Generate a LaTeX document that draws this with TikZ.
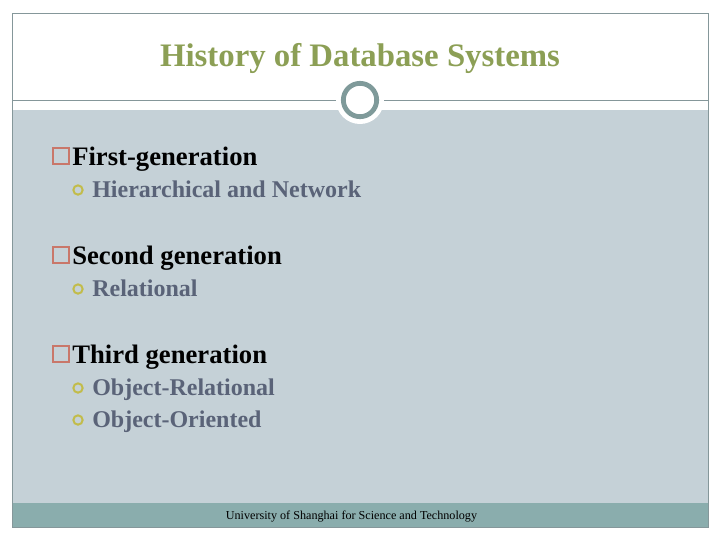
\documentclass[tikz,border=0pt]{standalone}
\usepackage{fontspec}
\setmainfont{Liberation Serif}
\definecolor{framegray}{HTML}{85979A}
\definecolor{panelblue}{HTML}{C5D1D7}
\definecolor{footteal}{HTML}{8AADAD}
\definecolor{ringteal}{HTML}{7F9A9A}
\definecolor{titleolive}{HTML}{8C9F55}
\definecolor{boxred}{HTML}{C9776A}
\definecolor{dotyellow}{HTML}{C2BC4A}
\definecolor{subslate}{HTML}{5A6378}
\tikzset{
	headtext/.style={anchor=base west, inner sep=0pt, font=\fontsize{20}{23}\selectfont\bfseries, text=black},
	subtext/.style={anchor=base west, inner sep=0pt, font=\fontsize{18}{21}\selectfont\bfseries, text=subslate},
	headbox/.style={draw=boxred, line width=1.5pt, minimum size=12pt, inner sep=0pt},
	subdot/.style={circle, draw=dotyellow, line width=1.5pt, minimum size=7pt, inner sep=0pt}
}
\begin{document}
\begin{tikzpicture}[x=.75pt, y=-.75pt]
	\useasboundingbox (0, 0) rectangle (720, 540);
	\fill[panelblue] (12, 110) rectangle (708, 503);
	\fill[footteal] (12, 503) rectangle (708, 527);
	\draw[framegray, line width=.6pt] (12, 13) rectangle (708, 527);
	\draw[framegray, line width=.5pt] (12, 100) -- (708, 100);
	\node[circle, fill=white, minimum size=36pt, inner sep=0pt] (ringback) at (360, 100) {};
	\node[circle, draw=ringteal, fill=white, line width=3.6pt, minimum size=25pt, inner sep=0pt] (ring) at (360, 100) {};

	\node[font=\fontsize{24.6}{28}\selectfont\bfseries, text=titleolive, inner sep=0pt, anchor=base] (title) at (360, 66) {History of Database Systems};

	\node[headbox] (boxa) at (61, 156) {};
	\node[headtext] (heada) at (72, 165) {First-generation};
	\node[subdot] (dota) at (78, 190) {};
	\node[subtext] (suba) at (92, 197) {Hierarchical and Network};

	\node[headbox] (boxb) at (61, 255) {};
	\node[headtext] (headb) at (72, 264) {Second generation};
	\node[subdot] (dotb) at (78, 289) {};
	\node[subtext] (subb) at (92, 296) {Relational};

	\node[headbox] (boxc) at (61, 354) {};
	\node[headtext] (headc) at (72, 363) {Third generation};
	\node[subdot] (dotc) at (78, 388) {};
	\node[subtext] (subc) at (92, 395) {Object-Relational};
	\node[subdot] (dotd) at (78, 420) {};
	\node[subtext] (subd) at (92, 427) {Object-Oriented};

	\node[font=\fontsize{9.1}{11}\selectfont, inner sep=0pt, anchor=base] (foot) at (351.5, 519) {University of Shanghai for Science and Technology};
\end{tikzpicture}
\end{document}
